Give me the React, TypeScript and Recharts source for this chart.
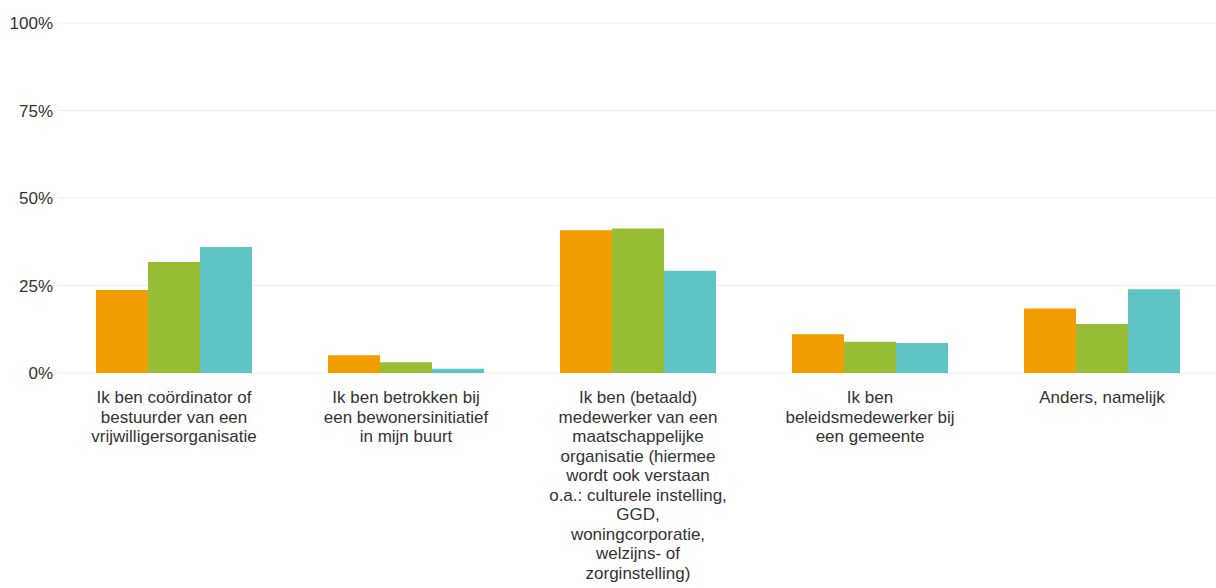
import React from 'react';
import { BarChart, Bar, XAxis, YAxis, CartesianGrid, Text } from 'recharts';

const categories = [
  'Ik ben coördinator of bestuurder van een vrijwilligersorganisatie',
  'Ik ben betrokken bij een bewonersinitiatief in mijn buurt',
  'Ik ben (betaald) medewerker van een maatschappelijke organisatie (hiermee wordt ook verstaan o.a.: culturele instelling, GGD, woningcorporatie, welzijns- of zorginstelling)',
  'Ik ben beleidsmedewerker bij een gemeente',
  'Anders, namelijk',
];
const seriesOrange = [23.7, 5.1, 40.8, 11.1, 18.4];
const seriesGreen = [31.7, 3.1, 41.3, 8.9, 14.0];
const seriesCyan = [36.0, 1.2, 29.2, 8.6, 23.9];
const yTicks = [0, 25, 50, 75, 100];

const data = categories.map((name, i) => ({
  name,
  a: seriesOrange[i],
  b: seriesGreen[i],
  c: seriesCyan[i],
}));

const FONT = '"Liberation Sans", Arial, sans-serif';

const CategoryTick = (props: any) => {
  const { x, y, payload } = props;
  return (
    <Text
      x={x}
      y={y}
      width={168}
      textAnchor="middle"
      verticalAnchor="start"
      lineHeight="19.5px"
      style={{ fontSize: 17, fontFamily: FONT }}
      fontSize={17}
      fontFamily={FONT}
      fill="#333333"
    >
      {payload.value}
    </Text>
  );
};

export default function App() {
  return (
    <div
      style={{
        position: 'absolute',
        left: 0,
        top: 0,
        width: 1216,
        height: 588,
        overflow: 'hidden',
        background: '#ffffff',
      }}
    >
      <BarChart
        width={1219}
        height={588}
        data={data}
        margin={{ top: 23, right: 1, left: 0, bottom: 0 }}
        barCategoryGap={38}
        barGap={0}
      >
        <CartesianGrid vertical={false} stroke="#eeeeee" />
        <YAxis
          width={58}
          domain={[0, 100]}
          ticks={yTicks}
          tickFormatter={(v: number) => `${v}%`}
          axisLine={false}
          tickLine={false}
          tickSize={3}
          tickMargin={2}
          tick={{ fontSize: 17, fontFamily: FONT, fill: '#333333' }}
        />
        <XAxis
          dataKey="name"
          height={215}
          interval={0}
          axisLine={false}
          tickLine={false}
          tickSize={0}
          tickMargin={18}
          tick={<CategoryTick />}
        />
        <Bar dataKey="a" fill="#f39c00" isAnimationActive={false} />
        <Bar dataKey="b" fill="#97bd35" isAnimationActive={false} />
        <Bar dataKey="c" fill="#5ec4c4" isAnimationActive={false} />
      </BarChart>
    </div>
  );
}
